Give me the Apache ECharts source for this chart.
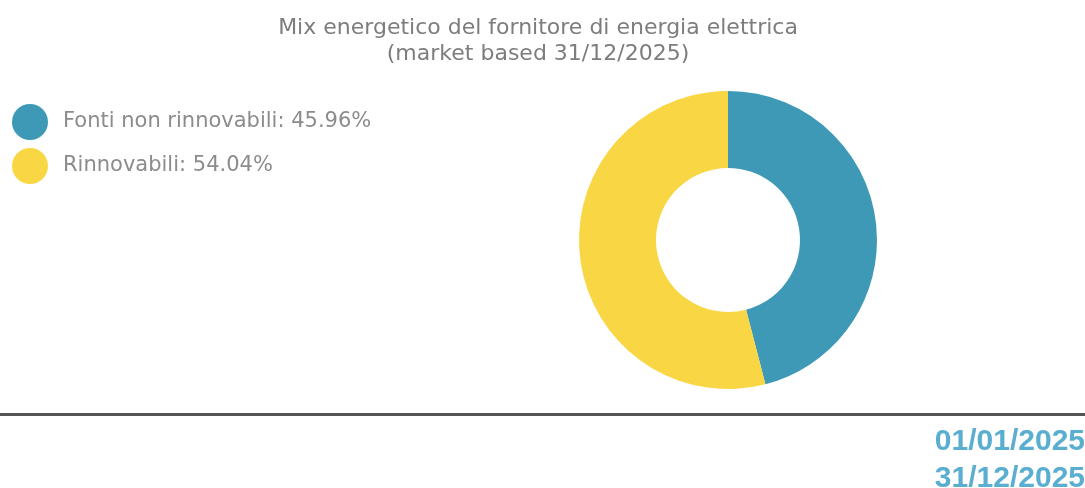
<!DOCTYPE html>
<html><head><meta charset="utf-8">
<script src="https://cdn.jsdelivr.net/npm/echarts@6/dist/echarts.min.js"></script>
<style>html,body{margin:0;padding:0;background:#fff}#c{width:1085px;height:488px}</style>
</head><body><div id="c"></div>
<script>
const categories = ['Fonti non rinnovabili', 'Rinnovabili'];
const values = [45.96, 54.04];
const colors = ['#3d99b6', '#f9d644'];
const titleLines = ['Mix energetico del fornitore di energia elettrica', '(market based 31/12/2025)'];
const dateLabels = ['01/01/2025', '31/12/2025'];

const chart = echarts.init(document.getElementById('c'), null, {renderer: 'canvas'});
const valMap = {};
categories.forEach((c, i) => valMap[c] = values[i]);
chart.setOption({
  animation: false,
  color: colors,
  title: {
    text: titleLines.join('\n'),
    left: 533, top: 10, textAlign: 'center',
    textStyle: {fontFamily: 'DejaVu Sans', fontSize: 22, fontWeight: 'normal', color: '#7d7d7d', lineHeight: 26}
  },
  legend: {
    orient: 'vertical', left: 7, top: 99,
    icon: 'circle', itemWidth: 36, itemHeight: 36, itemGap: 8,
    textStyle: {fontFamily: 'DejaVu Sans', fontSize: 21, color: '#8c8c8c', padding: [0, 0, 0, 10]},
    formatter: n => n + ': ' + valMap[n].toFixed(2) + '%'
  },
  series: [{
    type: 'pie', center: [728, 240], radius: [72, 149],
    startAngle: 90, clockwise: true,
    label: {show: false}, labelLine: {show: false},
    emphasis: {disabled: true},
    itemStyle: {borderWidth: 0},
    data: categories.map((c, i) => ({name: c, value: values[i]}))
  }],
  graphic: [
    {type: 'rect', shape: {x: 0, y: 413, width: 1085, height: 3}, style: {fill: '#555'}},
    {type: 'text', x: 1085, y: 442, style: {text: dateLabels[0], align: 'right', verticalAlign: 'middle', fontFamily: 'Liberation Sans', fontWeight: 'bold', fontSize: 30, fill: '#5aaed0'}},
    {type: 'text', x: 1085, y: 479, style: {text: dateLabels[1], align: 'right', verticalAlign: 'middle', fontFamily: 'Liberation Sans', fontWeight: 'bold', fontSize: 30, fill: '#5aaed0'}}
  ]
});
</script></body></html>
